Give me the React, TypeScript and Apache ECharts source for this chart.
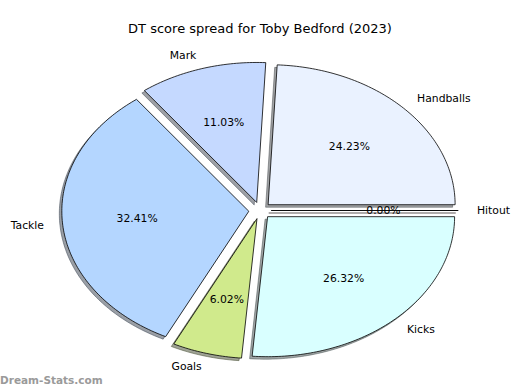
import React, { useEffect, useRef } from "react";
import * as echarts from "echarts";

const TITLE = "DT score spread for Toby Bedford (2023)";
const WATERMARK = "Dream-Stats.com";
const categories = ["Hitout", "Handballs", "Mark", "Tackle", "Goals", "Kicks"];
const values = [0, 24.23, 11.03, 32.41, 6.02, 26.32];
const palette = ["#f4d4d4", "#eaf2ff", "#c5d9ff", "#b4d6ff", "#d0ea8c", "#d9ffff"];

const EXPLODE = 0.06;
const FONT = "DejaVu Sans";

const total = values.reduce((a, b) => a + b, 0);
const starts: number[] = [];
{
  let acc = 0;
  values.forEach((v) => {
    starts.push(acc);
    acc += v;
  });
}

function geom(i: number) {
  const t1 = (starts[i] / total) * 2 * Math.PI;
  const t2 = ((starts[i] + values[i]) / total) * 2 * Math.PI;
  const mid = (t1 + t2) / 2;
  return { t1, t2, mid, ox: EXPLODE * Math.cos(mid), oy: EXPLODE * Math.sin(mid) };
}

function wedgePoints(api: any, i: number, dx = 0, dy = 0) {
  const { t1, t2, ox, oy } = geom(i);
  const pts: number[][] = [api.coord([ox, oy])];
  const n = Math.max(2, Math.ceil((t2 - t1) / (Math.PI / 180)));
  for (let k = 0; k <= n; k++) {
    const t = t1 + ((t2 - t1) * k) / n;
    pts.push(api.coord([ox + Math.cos(t), oy + Math.sin(t)]));
  }
  return pts.map((p) => [p[0] + dx, p[1] + dy]);
}

function shadowColor(hex: string) {
  const r = parseInt(hex.slice(1, 3), 16);
  const g = parseInt(hex.slice(3, 5), 16);
  const b = parseInt(hex.slice(5, 7), 16);
  return `rgba(${Math.round(r * 0.3)},${Math.round(g * 0.3)},${Math.round(b * 0.3)},0.5)`;
}

const seriesData = values.map((v, i) => [i, v]);

export default function App() {
  const ref = useRef<HTMLDivElement>(null);
  useEffect(() => {
    if (!ref.current) return;
    const chart = echarts.init(ref.current, undefined, { renderer: "svg" });
    chart.setOption({
      animation: false,
      backgroundColor: "#ffffff",
      title: {
        text: TITLE,
        left: "center",
        top: 17,
        textStyle: { fontSize: 13, fontWeight: "normal", color: "#000", fontFamily: FONT },
      },
      grid: { left: 73, top: 70.5, width: 374, height: 280 },
      xAxis: { type: "value", min: -1, max: 1, show: false },
      yAxis: { type: "value", min: -1, max: 1, show: false },
      graphic: [
        {
          type: "text",
          left: 0,
          top: 374,
          style: {
            text: WATERMARK,
            fill: "#9a9a9a",
            font: `bold 10.5px "${FONT}"`,
          },
        },
      ],
      series: [
        {
          type: "custom",
          name: "shadow",
          z: 1,
          clip: false,
          silent: true,
          data: seriesData,
          renderItem: (params: any, api: any) => {
            const i = api.value(0);
            const c = shadowColor(palette[i]);
            return {
              type: "polygon",
              shape: { points: wedgePoints(api, i, -2.5, 2.5) },
              style: { fill: c, stroke: c, lineWidth: 1 },
            };
          },
        },
        {
          type: "custom",
          name: "wedges",
          z: 2,
          clip: false,
          data: seriesData,
          renderItem: (params: any, api: any) => {
            const i = api.value(0);
            return {
              type: "polygon",
              shape: { points: wedgePoints(api, i) },
              style: { fill: palette[i], stroke: "#000", lineWidth: 0.8 },
            };
          },
        },
        {
          type: "custom",
          name: "labels",
          z: 3,
          clip: false,
          silent: true,
          data: seriesData,
          renderItem: (params: any, api: any) => {
            const i = api.value(0);
            const { mid, ox, oy } = geom(i);
            const lp = api.coord([ox + 1.1 * Math.cos(mid), oy + 1.1 * Math.sin(mid)]);
            const pp = api.coord([ox + 0.6 * Math.cos(mid), oy + 0.6 * Math.sin(mid)]);
            const pct = ((values[i] / total) * 100).toFixed(2) + "%";
            return {
              type: "group",
              children: [
                {
                  type: "text",
                  x: lp[0],
                  y: lp[1],
                  style: {
                    text: categories[i],
                    fill: "#000",
                    font: `10.8px "${FONT}"`,
                    align: Math.cos(mid) >= 0 ? "left" : "right",
                    verticalAlign: "middle",
                  },
                },
                {
                  type: "text",
                  x: pp[0],
                  y: pp[1],
                  style: {
                    text: pct,
                    fill: "#000",
                    font: `10.8px "${FONT}"`,
                    align: "center",
                    verticalAlign: "middle",
                  },
                },
              ],
            };
          },
        },
      ],
    });
    return () => chart.dispose();
  }, []);
  return (
    <div
      ref={ref}
      style={{ position: "fixed", left: 0, top: 0, width: 520, height: 390, background: "#fff" }}
    />
  );
}
